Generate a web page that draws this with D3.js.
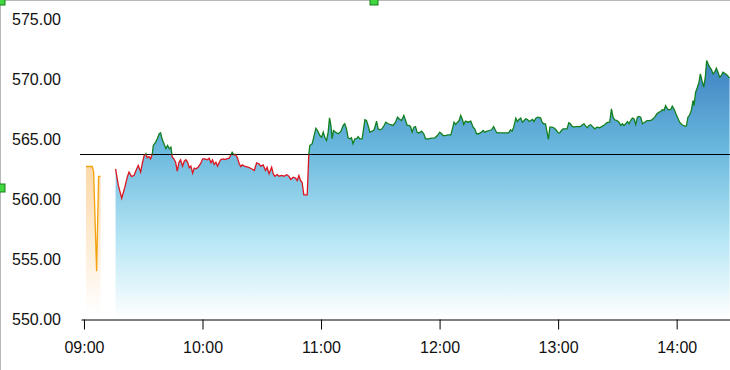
<!DOCTYPE html>
<html lang="en">
<head>
  <meta charset="UTF-8">
  <title>Intraday price</title>
  <script src="https://d3js.org/d3.v7.min.js"></script>
  <style>
    body { margin: 0; background: #fff; }
    svg { display: block; font-family: "Liberation Sans", Arial, sans-serif; }
    .axis text { font-size: 16px; fill: #111; }
  </style>
</head>
<body>
  <svg width="730" height="370"></svg>
  <script>
    // pre-open auction prints (minutes after 09:00)
    const preMins = [1.0, 2.0, 3.0, 4.2, 4.9, 6.4, 7.4, 8.4];
    const prePrices = [562.75, 562.75, 562.75, 562.75, 562.28, 554.03, 561.92, 561.92];

    // session prints (minutes after 09:00)
    const mins = [
      16.0, 17.4, 19.1, 20.7, 21.9, 22.8, 24.1, 25.3, 26.7, 27.5, 28.7, 29.5, 30.5, 31.4, 32.0, 32.9, 33.7, 34.6, 35.1, 36.3,
      37.1, 38.1, 38.8, 39.5, 40.5, 41.5, 42.3, 43.2, 44.0, 44.7, 45.5, 46.4, 47.2, 48.1, 48.9, 49.9, 50.7, 51.6, 52.5, 53.3,
      54.1, 55.0, 55.8, 56.7, 57.8, 59.0, 60.1, 61.2, 62.4, 63.4, 64.3, 65.1, 65.9, 66.8, 67.6, 68.5, 69.3, 70.5, 71.3, 72.2,
      73.5, 74.4, 75.0, 75.9, 76.8, 77.6, 78.6, 79.4, 80.1, 81.5, 83.1, 84.8, 86.2, 87.4, 88.5, 89.5, 90.7, 91.9, 92.7, 93.7,
      95.0, 95.8, 96.6, 97.8, 98.8, 100.0, 101.2, 102.6, 103.7, 104.7, 105.9, 107.1, 107.9, 108.8, 109.6, 110.4, 111.3, 112.2, 113.0, 113.8,
      114.3, 115.5, 116.5, 117.4, 118.2, 119.4, 120.3, 121.1, 121.9, 122.8, 123.6, 124.3, 125.0, 125.6, 126.3, 127.3, 128.7, 130.0, 131.2, 132.0,
      132.9, 133.7, 134.6, 135.4, 136.2, 137.1, 138.0, 138.8, 139.6, 140.8, 142.2, 143.0, 143.8, 144.7, 145.9, 146.9, 148.1, 148.9, 149.8, 150.9,
      151.9, 152.8, 154.0, 155.3, 156.5, 157.7, 158.7, 159.5, 160.7, 161.9, 162.8, 163.6, 164.4, 165.3, 166.1, 167.0, 167.8, 168.6, 169.5, 170.9,
      172.0, 172.9, 174.2, 175.9, 177.6, 178.9, 180.1, 181.0, 181.8, 183.0, 184.3, 185.7, 186.5, 187.3, 188.2, 189.1, 189.9, 190.7, 191.6, 192.2,
      193.1, 194.4, 195.8, 197.0, 197.8, 198.7, 199.8, 201.2, 202.0, 202.9, 203.7, 205.1, 206.3, 207.4, 208.3, 209.1, 210.5, 212.1, 213.9, 215.0,
      215.9, 216.7, 217.5, 218.6, 219.4, 220.2, 221.1, 221.9, 222.8, 223.6, 224.5, 225.3, 226.1, 227.0, 227.8, 228.7, 229.8, 231.1, 231.9, 232.7,
      233.6, 234.4, 235.1, 235.8, 236.9, 237.8, 238.8, 240.0, 240.8, 241.7, 242.5, 243.3, 244.5, 245.4, 246.2, 247.0, 247.9, 248.9, 250.1, 251.3,
      252.3, 253.1, 254.0, 254.8, 255.6, 256.5, 257.7, 258.5, 259.7, 261.0, 262.4, 263.6, 264.7, 266.1, 267.0, 267.8, 268.6, 269.8, 270.8, 271.7,
      272.5, 273.3, 274.2, 275.1, 275.9, 276.7, 277.6, 278.4, 279.3, 280.1, 280.9, 281.8, 282.7, 283.8, 285.0, 286.3, 287.5, 288.9, 290.0, 291.1,
      291.9, 292.8, 293.6, 294.4, 295.3, 296.1, 297.0, 297.8, 298.6, 299.5, 300.4, 301.5, 302.7, 304.1, 304.9, 305.7, 306.6, 307.4, 308.3, 308.8,
      309.6, 310.5, 311.3, 312.0, 312.8, 313.7, 314.5, 315.2, 315.9, 316.7, 317.6, 318.4, 319.2, 320.1, 320.9, 321.8, 322.6, 323.4, 324.7, 325.7,
      326.8
    ];
    const prices = [
      562.56, 561.17, 560.11, 561.03, 561.86, 562.28, 561.92, 562.00, 562.56, 562.83, 562.28, 562.98, 563.67, 563.81, 563.48, 563.58, 563.39, 563.81, 564.50, 564.78,
      565.06, 565.48, 565.56, 565.06, 564.64, 564.23, 564.50, 564.23, 564.36, 563.53, 563.39, 563.11, 562.36, 563.11, 563.31, 562.78, 563.17, 563.31, 563.11, 562.64,
      562.78, 562.19, 562.61, 562.56, 562.69, 562.98, 563.39, 563.39, 563.31, 563.44, 563.06, 563.31, 562.92, 563.11, 562.78, 563.11, 563.33, 563.39, 563.33, 563.39,
      563.44, 563.73, 563.94, 563.73, 563.75, 563.50, 562.98, 562.75, 562.89, 562.75, 562.69, 562.56, 562.42, 563.06, 562.98, 562.78, 562.89, 562.42, 562.69, 562.14,
      562.69, 562.14, 561.94, 562.08, 561.94, 562.00, 561.94, 562.06, 561.94, 561.67, 561.86, 561.78, 561.58, 562.00, 561.58, 561.44, 560.39, 560.39, 560.39, 563.73,
      564.50, 564.64, 565.33, 565.94, 565.75, 565.33, 565.19, 565.61, 565.19, 564.92, 565.61, 566.81, 566.17, 565.06, 565.75, 565.61, 565.48, 565.67, 566.17, 566.31,
      565.89, 565.14, 565.06, 565.14, 564.64, 565.06, 565.08, 565.25, 565.06, 565.06, 566.64, 566.58, 566.17, 565.61, 565.69, 565.81, 566.53, 565.89, 565.81, 565.89,
      566.17, 566.44, 566.31, 566.23, 566.17, 566.44, 566.86, 566.73, 566.58, 567.00, 566.58, 566.17, 566.17, 566.08, 565.61, 566.03, 566.08, 565.61, 565.53, 565.69,
      565.48, 565.06, 565.06, 565.11, 565.14, 565.33, 565.61, 565.48, 565.33, 565.33, 565.39, 565.39, 565.89, 566.44, 566.25, 566.44, 566.58, 567.00, 566.64, 566.25,
      566.53, 566.44, 566.53, 566.03, 565.89, 565.48, 565.48, 565.61, 565.75, 565.61, 565.67, 565.75, 565.81, 566.08, 565.75, 565.56, 565.56, 565.56, 565.56, 565.56,
      565.81, 565.69, 566.03, 566.78, 566.50, 566.67, 566.78, 566.44, 566.58, 566.73, 566.67, 566.50, 566.58, 566.67, 566.50, 566.78, 566.86, 566.81, 566.44, 566.31,
      566.31, 565.61, 565.00, 566.03, 566.03, 565.98, 565.83, 565.56, 565.56, 565.75, 565.89, 565.89, 565.89, 566.39, 566.31, 566.11, 566.03, 566.08, 566.08, 566.08,
      566.23, 566.31, 566.11, 565.98, 566.17, 566.23, 566.03, 565.89, 566.03, 565.98, 566.11, 566.23, 566.40, 566.44, 567.56, 566.86, 566.64, 566.58, 566.44, 566.17,
      566.31, 566.17, 566.31, 566.50, 566.31, 566.58, 566.78, 566.73, 566.25, 566.86, 566.92, 566.86, 566.31, 566.44, 566.58, 566.58, 566.64, 566.86, 567.14, 567.28,
      567.33, 567.50, 567.42, 567.83, 567.56, 567.48, 567.50, 567.78, 567.56, 567.19, 566.86, 566.44, 566.23, 566.11, 566.11, 566.86, 567.06, 567.42, 568.25, 567.83,
      568.94, 569.36, 569.78, 570.47, 569.92, 569.36, 570.19, 571.58, 571.31, 571.03, 570.83, 570.47, 570.61, 570.94, 570.61, 570.19, 570.33, 570.61, 570.47, 570.33,
      570.11
    ];

    const prevClose = 563.75;
    const yTicks = [550, 555, 560, 565, 570, 575];
    const hourTicks = [9, 10, 11, 12, 13, 14];

    const day = new Date(2024, 0, 2, 9, 0, 0);
    const at = m => new Date(day.getTime() + m * 60000);

    const svg = d3.select("svg");
    const W = 730, H = 370;

    const x = d3.scaleTime()
      .domain([at(-1.5), at(327)])
      .range([81, 730]);
    const y = d3.scaleLinear()
      .domain([550, 575])
      .range([319.5, 19.5]);

    const main = mins.map((m, i) => ({ t: at(m), p: prices[i] }));
    const pre = preMins.map((m, i) => ({ t: at(m), p: prePrices[i] }));

    const defs = svg.append("defs");
    const blue = defs.append("linearGradient").attr("id", "blueFill")
      .attr("gradientUnits", "userSpaceOnUse")
      .attr("x1", 0).attr("x2", 0).attr("y1", y(571.6)).attr("y2", y(550));
    [[0, "#3d82c3"], [0.35, "#6bb9de"], [0.7, "#b8e7f5"], [1, "#ffffff"]]
      .forEach(s => blue.append("stop").attr("offset", s[0]).attr("stop-color", s[1]));

    const orange = defs.append("linearGradient").attr("id", "orangeFill")
      .attr("gradientUnits", "userSpaceOnUse")
      .attr("x1", 0).attr("x2", 0).attr("y1", y(563)).attr("y2", y(550.5));
    [[0, "#fdd7a6"], [1, "#ffffff"]]
      .forEach(s => orange.append("stop").attr("offset", s[0]).attr("stop-color", s[1]));

    const yBase = y(prevClose);
    defs.append("clipPath").attr("id", "above")
      .append("rect").attr("x", 0).attr("y", 0).attr("width", W).attr("height", yBase);
    defs.append("clipPath").attr("id", "below")
      .append("rect").attr("x", 0).attr("y", yBase).attr("width", W).attr("height", H - yBase);

    const area = d3.area().x(d => x(d.t)).y0(y(550)).y1(d => y(d.p));
    const line = d3.line().x(d => x(d.t)).y(d => y(d.p));

    // frame of the widget
    svg.append("line").attr("x1", 0.5).attr("x2", 0.5).attr("y1", 0).attr("y2", H)
      .attr("stroke", "#b8b8b8");
    svg.append("line").attr("x1", 0).attr("x2", W).attr("y1", 0.5).attr("y2", 0.5)
      .attr("stroke", "#b8b8b8");

    svg.append("path").datum(pre).attr("d", area).attr("fill", "url(#orangeFill)");
    svg.append("path").datum(main).attr("d", area).attr("fill", "url(#blueFill)");

    svg.append("line")
      .attr("x1", 80).attr("x2", W)
      .attr("y1", yBase).attr("y2", yBase)
      .attr("stroke", "#000").attr("stroke-width", 1);

    svg.append("path").datum(pre).attr("d", line)
      .attr("fill", "none").attr("stroke", "#f2a20c").attr("stroke-width", 1.3);
    svg.append("path").datum(main).attr("d", line).attr("clip-path", "url(#above)")
      .attr("fill", "none").attr("stroke", "#11801f").attr("stroke-width", 1.3);
    svg.append("path").datum(main).attr("d", line).attr("clip-path", "url(#below)")
      .attr("fill", "none").attr("stroke", "#dd1520").attr("stroke-width", 1.3);

    const xAxis = svg.append("g").attr("class", "axis")
      .attr("transform", `translate(0,${y(550)})`)
      .call(d3.axisBottom(x)
        .tickValues(hourTicks.map(h => at((h - 9) * 60)))
        .tickFormat(d3.timeFormat("%H:%M"))
        .tickSize(10).tickSizeOuter(0).tickPadding(12));
    xAxis.select(".domain").attr("stroke", "#000");
    xAxis.selectAll(".tick line").attr("stroke", "#000");

    const yAxis = svg.append("g").attr("class", "axis")
      .attr("transform", "translate(12,0)")
      .call(d3.axisRight(y).tickValues(yTicks).tickFormat(d => d.toFixed(2))
        .tickSize(0).tickPadding(0));
    yAxis.select(".domain").remove();

    // selection handles
    [[1, 1], [374, 1], [1, 188]].forEach(([hx, hy]) => {
      svg.append("rect")
        .attr("x", hx - 4).attr("y", hy - 4).attr("width", 8).attr("height", 8)
        .attr("fill", "#3fd83f").attr("stroke", "#1d7a1d").attr("stroke-width", 1);
    });
  </script>
</body>
</html>
